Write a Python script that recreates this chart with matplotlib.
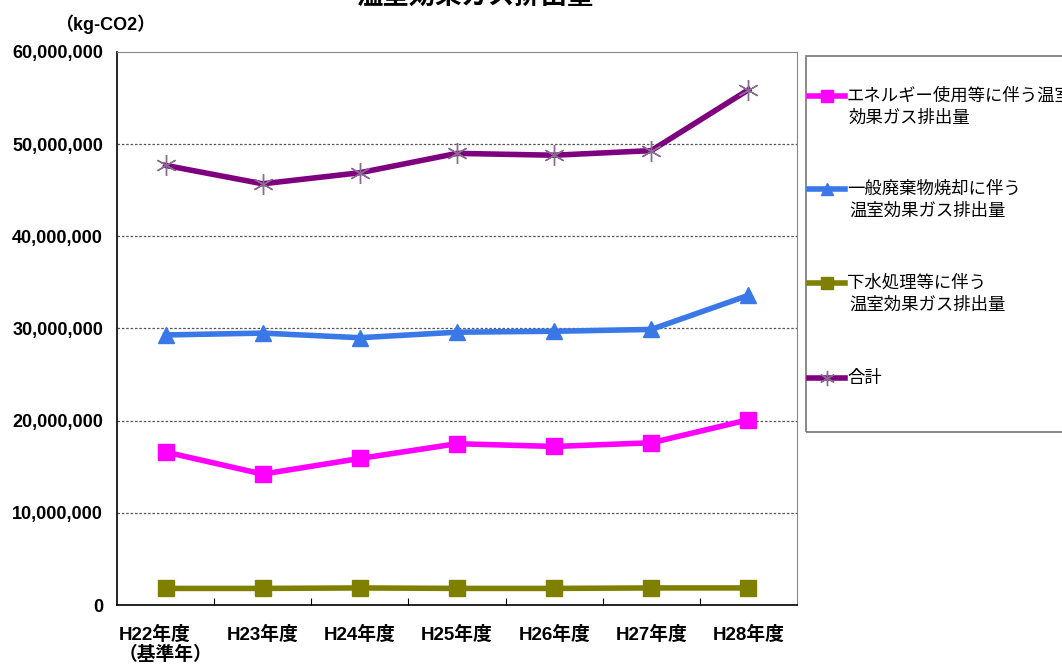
import matplotlib
matplotlib.use("Agg")
import matplotlib.pyplot as plt
from matplotlib.lines import Line2D
from matplotlib.patches import Rectangle
from matplotlib.ticker import FuncFormatter

plt.rcParams['font.family'] = ['Noto Sans CJK JP', 'DejaVu Sans']
MIXED = ['Liberation Sans', 'Noto Sans CJK JP', 'DejaVu Sans']

categories = ["H22年度\n（基準年）", "H23年度", "H24年度", "H25年度", "H26年度", "H27年度", "H28年度"]
energy = [16.6e6, 14.2e6, 15.9e6, 17.5e6, 17.2e6, 17.6e6, 20.1e6]
waste = [29.3e6, 29.5e6, 29.0e6, 29.6e6, 29.7e6, 29.9e6, 33.6e6]
sewage = [1.8e6, 1.8e6, 1.85e6, 1.8e6, 1.8e6, 1.85e6, 1.85e6]
total = [47.7e6, 45.7e6, 46.9e6, 49.0e6, 48.8e6, 49.3e6, 55.9e6]

labels = ["エネルギー使用等に伴う温室\n効果ガス排出量",
          "一般廃棄物焼却に伴う\n温室効果ガス排出量",
          "下水処理等に伴う\n温室効果ガス排出量",
          "合計"]
colors = ["#ff00ff", "#3a78e8", "#808000", "#7f007f"]
markers = ["s", "^", "s", (6, 2, 0)]

W, H = 1062, 666
fig = plt.figure(figsize=(W / 100, H / 100), dpi=100)
ax = fig.add_axes([117 / W, 1 - 605 / H, 680 / W, 553 / H])

x = list(range(len(categories)))
series = [energy, waste, sewage, total]
for s, c, m in zip(series, colors, markers):
    if isinstance(m, tuple):
        ax.plot(x, s, color=c, lw=4, zorder=3)
        ax.plot(x, s, lw=0, marker=m, ms=15, mew=1.0, mec="#8a6a90", zorder=4)
    else:
        ax.plot(x, s, color=c, lw=4, marker=m, ms=11 if m == "s" else 12, mec=c, zorder=3)

ax.set_xlim(-0.5, len(categories) - 0.5)
ax.set_ylim(0, 60e6)
ax.set_yticks([0, 10e6, 20e6, 30e6, 40e6, 50e6, 60e6])
ax.yaxis.set_major_formatter(FuncFormatter(lambda v, p: f"{int(v):,}"))
ax.set_xticks(x)
ax.set_xticklabels(categories, fontsize=13.5, fontweight="bold", multialignment="left",
                   va="top", family=MIXED, linespacing=1.15)
ax.set_xticks([i + 0.5 for i in x[:-1]], minor=True)
ax.tick_params(axis="x", which="major", length=0, pad=15)
ax.tick_params(axis="x", which="minor", length=5, direction="in", width=0.8)
ax.tick_params(axis="y", length=0, pad=10)
for lab in ax.get_yticklabels():
    lab.set_fontweight("bold")
    lab.set_fontsize(13)
    lab.set_family(['Liberation Sans', 'DejaVu Sans'])

for yv in [10e6, 20e6, 30e6, 40e6, 50e6]:
    ax.axhline(yv, color="#555555", lw=0.9, ls=(0, (2, 1.5)), zorder=1)

ax.spines["left"].set_color("black")
ax.spines["bottom"].set_color("black")
ax.spines["left"].set_linewidth(1.2)
ax.spines["bottom"].set_linewidth(1.2)
ax.spines["top"].set_color("#888888")
ax.spines["right"].set_color("#888888")

fig.text(475 / W, 1 + 3 / H, "温室効果ガス排出量", ha="center", va="center",
         fontsize=19, fontweight="bold")
fig.text(105 / W, 1 - 24 / H, "（kg-CO2）", ha="center", va="center", fontsize=13,
         fontweight="bold", family=MIXED)

# legend box
fig.patches.append(Rectangle((806 / W, 1 - 432 / H), 300 / W, 376 / H, transform=fig.transFigure,
                             fill=False, edgecolor="#777777", lw=1.2))
ys = [96, 189, 283, 378]
for yy, lab, c, m in zip(ys, labels, colors, markers):
    yf = 1 - yy / H
    fig.lines.append(Line2D([809 / W, 845 / W], [yf, yf], transform=fig.transFigure, color=c, lw=4))
    if isinstance(m, tuple):
        fig.lines.append(Line2D([827 / W], [yf], transform=fig.transFigure, color="#8a6a90",
                                marker=m, ms=11, mew=1.0, lw=0))
    else:
        fig.lines.append(Line2D([827 / W], [yf], transform=fig.transFigure, color=c,
                                marker=m, ms=9, lw=0))
    for i, t in enumerate(lab.split("\n")):
        fig.text((847 if i == 0 else 849) / W, 1 - (yy + i * 22) / H, t, ha="left", va="center",
                 fontsize=12.5)

fig.savefig("out.png", dpi=100)
